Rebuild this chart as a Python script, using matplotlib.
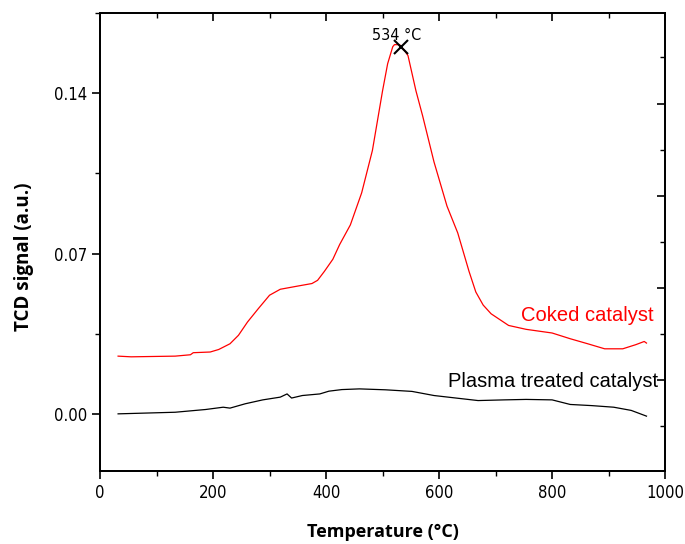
import numpy as np
import matplotlib.pyplot as plt
from matplotlib.ticker import MultipleLocator, NullFormatter

# coked catalyst TPO profile (red)
coked_T = [32, 55, 133, 160, 165, 195, 210, 230, 245, 261, 280, 300, 319, 350,
           375, 385, 397, 412, 424, 443, 463, 482, 500, 509, 518, 521, 530,
           539, 545, 559, 571, 591, 614, 633, 653, 665, 678, 692, 723, 754,
           800, 832, 863, 893, 925, 948, 963, 967]
coked_sig = [0.0252, 0.0249, 0.0252, 0.0258, 0.0267, 0.0270, 0.0281, 0.0306,
             0.0343, 0.0401, 0.0459, 0.0518, 0.0544, 0.0558, 0.0569, 0.0583,
             0.0622, 0.0675, 0.0739, 0.0825, 0.0965, 0.1150, 0.1411, 0.1529,
             0.1603, 0.1612, 0.1612, 0.1586, 0.1564, 0.1411, 0.1300, 0.1100,
             0.0907, 0.0790, 0.0622, 0.0532, 0.0475, 0.0437, 0.0386, 0.0369,
             0.0353, 0.0328, 0.0306, 0.0284, 0.0284, 0.0302, 0.0316, 0.0309]

# plasma treated catalyst (black)
plasma_T = [32, 133, 187, 218, 230, 257, 288, 319, 331, 339, 358, 389, 405,
            428, 459, 505, 552, 591, 630, 669, 715, 754, 800, 832, 870, 909,
            940, 967]
plasma_sig = [0.0, 0.0007, 0.0019, 0.0029, 0.0025, 0.0044, 0.0061, 0.0073,
              0.0087, 0.0069, 0.0080, 0.0087, 0.0099, 0.0106, 0.0109, 0.0105,
              0.0098, 0.0080, 0.0069, 0.0058, 0.0061, 0.0063, 0.0061, 0.0041,
              0.0036, 0.0029, 0.0015, -0.0010]

peak_T = 532
peak_sig = 0.1600

narrow = ['DejaVu Sans']

fig = plt.figure(figsize=(6.85, 5.44), dpi=100)
ax = fig.add_axes([0.146, 0.134, 0.825, 0.842])

ax.plot(coked_T, coked_sig, color='red', linewidth=0.9)
ax.plot(plasma_T, plasma_sig, color='black', linewidth=0.9)
ax.plot([peak_T], [peak_sig], marker='x', color='black', markersize=10,
        markeredgewidth=1.5)
ax.text(peak_T - 7, peak_sig + 0.002, "534 °C", ha='center', va='bottom',
        fontsize=11.5, family=narrow, fontstretch='condensed')

ax.text(980, 0.043, "Coked catalyst", color='red', ha='right', va='center',
        fontsize=14.5, family=['Liberation Sans', 'DejaVu Sans'])
ax.text(988, 0.0141, "Plasma treated catalyst", color='black', ha='right',
        va='center', fontsize=14.5, family=['Liberation Sans', 'DejaVu Sans'])

ax.set_xlim(0, 1000)
ax.set_ylim(-0.025, 0.175)
ax.set_xticks([0, 200, 400, 600, 800, 1000])
ax.xaxis.set_minor_locator(MultipleLocator(100))
ax.set_yticks([0.0, 0.07, 0.14])
ax.set_yticklabels(['0.00', '0.07', '0.14'])
ax.yaxis.set_minor_locator(MultipleLocator(0.035))
ax.tick_params(axis='both', which='major', direction='out', length=6,
               width=1.2, labelsize=12)
ax.tick_params(axis='both', which='minor', direction='out', length=3.5,
               width=1.0)
ax.tick_params(axis='x', which='both', top=True)
for lab in ax.get_xticklabels() + ax.get_yticklabels():
    lab.set_family(narrow)
    lab.set_fontstretch('condensed')

# top ticks point inward
for t in ax.xaxis.get_major_ticks() + ax.xaxis.get_minor_ticks():
    t.tick2line.set_marker(3)

ax.set_xlabel("Temperature (°C)", fontsize=13, fontweight='bold',
              family=['Open Sans', 'DejaVu Sans'], labelpad=15)
ax.set_ylabel("TCD signal (a.u.)", fontsize=13.5, fontweight='bold',
              family=['Open Sans', 'DejaVu Sans'])
ax.yaxis.set_label_coords(-0.117, 0.467)

# right axis with its own unlabelled ticks
ax2 = ax.twinx()
ax2.set_ylim(-0.025, 0.175)
ax2.set_yticks(np.arange(0.0149, 0.17, 0.0402))
ax2.set_yticks(np.arange(-0.0052, 0.17, 0.0201), minor=True)
ax2.yaxis.set_major_formatter(NullFormatter())
ax2.tick_params(axis='y', which='major', direction='in', length=6, width=1.2)
ax2.tick_params(axis='y', which='minor', direction='in', length=3.5, width=1.0)

for a in (ax, ax2):
    for s in a.spines.values():
        s.set_linewidth(1.3)

fig.savefig("out.png", dpi=100)
